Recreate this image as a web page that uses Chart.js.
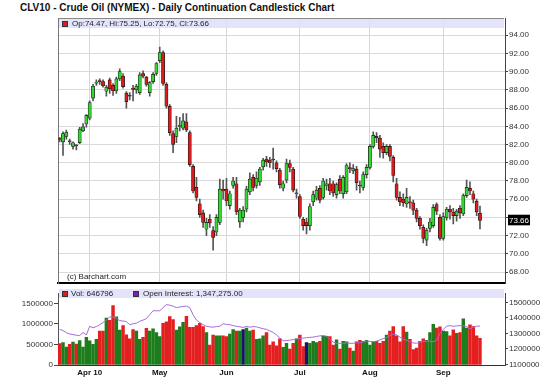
<!DOCTYPE html>
<html><head><meta charset="utf-8">
<script src="https://cdn.jsdelivr.net/npm/chart.js@4/dist/chart.umd.min.js"></script>
<style>
body{margin:0;background:#fff;width:550px;height:382px;overflow:hidden;position:relative;font-family:"Liberation Sans",Arial,sans-serif;}
#title{position:absolute;left:20px;top:2px;font-weight:bold;font-size:10px;line-height:12px;color:#111;white-space:nowrap;}
canvas{position:absolute;left:0;}
#c1{top:0;}
#c2{top:288px;}
.strip{position:absolute;left:59px;width:445px;height:9px;background:rgba(222,222,250,0.85);font-size:8px;line-height:9px;color:#222;white-space:nowrap;}
.sq{position:absolute;top:2px;width:4px;height:4px;border:1px solid #333;}
.tx{position:absolute;top:0;}
#wm{position:absolute;left:67px;top:272px;font-size:8px;line-height:9px;color:#222;}
</style></head>
<body>
<div id="title">CLV10 - Crude Oil (NYMEX) - Daily Continuation Candlestick Chart</div>
<canvas id="c1" width="550" height="289"></canvas>
<canvas id="c2" width="550" height="94"></canvas>
<div class="strip" style="top:18px;border-top:1px solid #888;">
  <span class="sq" style="left:3px;background:#d42020;"></span>
  <span class="tx" id="lg1" style="left:13px;"></span>
</div>
<div class="strip" style="top:289px;">
  <span class="sq" style="left:3px;background:#d42020;"></span>
  <span class="tx" id="lg2" style="left:12px;"></span>
  <span class="sq" style="left:74px;background:#7a1fb0;"></span>
  <span class="tx" id="lg3" style="left:84px;"></span>
</div>
<div id="wm">(c) Barchart.com</div>
<script>
// ---- data ----
const dates = ['Mar 19','Mar 22','Mar 23','Mar 24','Mar 25','Mar 26','Mar 29','Mar 30','Mar 31',
'Apr 1','Apr 5','Apr 6','Apr 7','Apr 8','Apr 9','Apr 12','Apr 13','Apr 14','Apr 15','Apr 16','Apr 19','Apr 20','Apr 21','Apr 22','Apr 23','Apr 26','Apr 27','Apr 28','Apr 29','Apr 30',
'May 3','May 4','May 5','May 6','May 7','May 10','May 11','May 12','May 13','May 14','May 17','May 18','May 19','May 20','May 21','May 24','May 25','May 26','May 27','May 28',
'Jun 1','Jun 2','Jun 3','Jun 4','Jun 7','Jun 8','Jun 9','Jun 10','Jun 11','Jun 14','Jun 15','Jun 16','Jun 17','Jun 18','Jun 21','Jun 22','Jun 23','Jun 24','Jun 25','Jun 28','Jun 29','Jun 30',
'Jul 1','Jul 2','Jul 6','Jul 7','Jul 8','Jul 9','Jul 12','Jul 13','Jul 14','Jul 15','Jul 16','Jul 19','Jul 20','Jul 21','Jul 22','Jul 23','Jul 26','Jul 27','Jul 28','Jul 29','Jul 30',
'Aug 2','Aug 3','Aug 4','Aug 5','Aug 6','Aug 9','Aug 10','Aug 11','Aug 12','Aug 13','Aug 16','Aug 17','Aug 18','Aug 19','Aug 20','Aug 23','Aug 24','Aug 25','Aug 26','Aug 27','Aug 30','Aug 31',
'Sep 1','Sep 2','Sep 3','Sep 7','Sep 8','Sep 9','Sep 10','Sep 13','Sep 14','Sep 15','Sep 16','Sep 17'];
const emptySlots = ['','','','','','',''];

const open = [82.65,82.3,82.9,82.4,81.8,81.9,82.2,83.5,84.25,
84.9,87.1,88.75,88.95,88.9,87.85,89.1,88.5,87.9,89.2,89.5,87.65,87.4,88.1,88.0,87.7,89.8,89.4,87.7,88.9,89.8,
91.2,92.1,88.6,86.2,83.2,82.9,84.0,83.8,84.5,83.3,79.6,77.3,75.5,74.5,72.7,73.8,72.55,72.4,73.45,77.1,
77.1,75.3,77.5,77.7,73.5,74.0,74.9,76.8,78.4,77.5,77.9,79.55,80.4,80.3,80.4,80.0,79.2,77.2,78.1,79.9,79.3,76.6,
76.3,73.8,73.5,73.1,75.7,76.1,77.2,76.2,77.5,77.7,77.7,76.5,78.2,76.6,76.8,79.45,79.1,79.3,77.55,77.3,78.7,
79.5,81.8,82.9,82.7,81.8,81.1,81.8,80.6,77.7,76.2,76.0,75.5,75.65,75.6,74.8,73.9,72.9,71.5,72.8,73.1,75.4,74.0,
71.7,74.0,74.9,74.6,74.2,75.0,74.4,76.4,77.2,76.6,75.8,74.47];
const high = [82.8,83.4,83.6,82.6,82.3,82.0,83.9,84.3,85.3,
86.8,88.6,89.1,89.2,89.1,88.5,89.3,88.7,89.4,90.3,89.8,87.8,87.7,88.5,88.6,89.9,90.1,89.5,88.9,89.9,91.0,
92.7,92.3,88.8,86.4,83.5,85.1,85.0,85.4,85.4,83.5,79.8,78.4,76.0,74.8,73.9,74.3,73.0,74.3,78.2,78.1,
78.3,76.9,78.4,78.4,75.0,75.2,77.4,78.9,78.7,79.0,79.5,80.5,80.7,80.6,81.6,80.2,79.4,78.0,80.4,80.3,79.5,77.1,
76.5,74.0,73.9,75.5,76.9,77.4,77.5,78.3,78.2,78.3,78.0,77.8,78.6,78.6,79.9,80.0,79.8,79.6,78.0,79.0,79.8,
82.0,83.4,83.3,83.0,82.2,82.0,82.0,80.8,78.3,76.8,76.6,77.2,76.3,75.9,75.0,74.1,73.2,72.8,73.9,75.4,75.6,74.3,
74.5,75.1,75.3,75.0,74.9,75.3,76.6,78.1,77.9,76.9,76.0,75.25];
const low = [82.3,80.8,82.6,82.0,81.5,81.4,82.1,83.4,83.9,
84.7,86.8,88.5,88.6,88.3,87.3,87.6,87.4,87.6,89.0,88.2,86.0,86.9,86.8,87.6,87.5,89.3,88.4,87.3,88.7,89.6,
91.0,88.5,86.0,83.0,81.1,82.2,83.5,83.6,83.4,79.6,76.7,75.8,74.0,72.9,72.0,72.9,70.4,72.0,73.2,76.0,
75.3,74.9,77.2,74.3,72.9,73.5,74.6,76.5,76.9,77.2,77.5,79.2,79.6,79.5,79.3,79.0,77.2,76.9,77.8,79.0,76.8,76.1,
73.9,72.6,72.2,72.6,75.3,75.9,75.6,76.0,77.0,76.5,76.3,76.1,76.6,76.1,76.6,78.9,78.8,77.0,76.7,77.0,78.3,
79.3,81.6,82.2,80.6,80.5,80.9,80.2,77.9,75.9,75.3,75.2,75.1,75.0,74.3,73.5,72.7,71.2,70.9,72.4,72.9,74.3,71.5,
71.5,73.7,73.8,73.3,73.6,73.9,74.2,76.2,76.5,75.6,74.2,72.75];
const close = [82.55,83.2,83.35,82.3,82.2,81.85,83.7,83.95,85.2,
86.6,88.4,88.8,88.9,88.45,88.3,88.1,87.9,89.2,90.0,88.35,86.7,87.3,88.05,88.4,89.65,89.5,88.6,88.8,89.7,90.9,
92.1,88.7,86.2,83.3,82.0,83.8,84.05,84.6,83.6,79.8,76.9,76.2,74.3,73.45,73.45,73.4,71.8,74.0,77.1,76.9,
75.8,76.6,78.0,74.6,74.8,74.8,77.1,78.2,77.3,78.3,79.3,80.3,80.1,80.0,80.3,79.35,77.6,77.7,79.9,79.5,77.0,76.65,
74.1,73.1,73.1,75.2,76.5,77.0,75.9,78.0,77.7,76.9,76.7,77.6,76.9,78.4,79.7,79.35,79.35,77.8,77.45,78.7,79.5,
81.8,83.0,82.75,81.5,81.1,81.8,80.7,78.6,76.2,75.7,75.6,76.2,75.6,74.8,73.9,73.1,71.7,72.6,73.5,75.1,74.7,71.7,
74.1,74.9,74.6,74.2,74.7,74.5,76.4,77.3,76.9,76.0,74.6,73.66];

const volume = [520000,
547000,435000,502000,555000,510000,592000,435000,675000,585000,502000,
622000,825000,825000,1140000,1087000,1447000,1170000,847000,960000,735000,
637000,862000,825000,622000,675000,892000,825000,877000,787000,690000,
1012000,1050000,1177000,1102000,847000,930000,1035000,1185000,915000,915000,
960000,1012000,937000,787000,487000,727000,712000,712000,712000,690000,
750000,862000,825000,825000,862000,900000,825000,847000,622000,637000,
712000,787000,487000,562000,465000,637000,427000,525000,390000,525000,
637000,727000,450000,547000,525000,577000,547000,577000,697000,697000,
690000,487000,615000,390000,577000,562000,412000,337000,562000,600000,
577000,600000,487000,562000,577000,525000,577000,727000,825000,937000,
712000,562000,937000,802000,622000,375000,412000,577000,637000,600000,
787000,990000,900000,930000,825000,810000,712000,855000,772000,787000,
1125000,900000,975000,937000,712000,646796];

const openInterest = [1326000,1318000,1305000,1296000,1292000,1288000,1286000,1306000,1290000,
1346000,1336000,1344000,1356000,1370000,1386000,1406000,1406000,1398000,1382000,1380000,1376000,1356000,1362000,1366000,1378000,1386000,1396000,1420000,1446000,1446000,
1446000,1466000,1486000,1482000,1476000,1466000,1470000,1474000,1476000,1466000,1420000,1386000,1370000,1356000,1346000,1342000,1340000,1344000,1346000,1362000,
1358000,1356000,1350000,1346000,1342000,1338000,1346000,1340000,1344000,1342000,1336000,1330000,1326000,1316000,1306000,1290000,1270000,1252000,1254000,1256000,1260000,1264000,
1266000,1270000,1272000,1274000,1276000,1280000,1284000,1286000,1282000,1262000,1244000,1236000,1236000,1236000,1238000,1236000,1236000,1238000,1240000,1244000,1250000,
1248000,1246000,1250000,1258000,1266000,1274000,1286000,1296000,1290000,1276000,1262000,1256000,1246000,1238000,1236000,1244000,1248000,1250000,1250000,1246000,1254000,1300000,
1326000,1346000,1350000,1346000,1348000,1350000,1348000,1344000,1330000,1340000,1346000,1347275];

const unchangedVolumeDays = ['Jun 8','Jul 6'];
const priceTicks = [68,70,72,74,76,78,80,82,84,86,88,90,92,94];
const volumeTicks = [0,500000,1000000,1500000];
const oiTicks = [1100000,1200000,1300000,1400000,1500000];
const monthNames = ['Apr','May','Jun','Jul','Aug','Sep'];
const monthTickLabels = ['Apr 10','May','Jun','Jul','Aug','Sep'];

// ---- derived ----
const categories = dates.concat(emptySlots);
const L = close.length - 1;
const lastClose = close[L];
const monthStartIdx = {};
dates.forEach((d,i)=>{const m=d.split(' ')[0]; const k=monthNames.indexOf(m); if(k>=0 && !(m in monthStartIdx)) monthStartIdx[m]=i;});
const tickAt = {};
monthNames.forEach((m,k)=>{ tickAt[monthStartIdx[m]] = monthTickLabels[k]; });
const isMonthStart = i => (i in tickAt);

const GREEN='#33d633', RED='#dc1c1c';
const bodyColors = open.map((o,i)=> close[i]>=o ? GREEN : RED);
const volColors = open.map((o,i)=> unchangedVolumeDays.includes(dates[i]) ? '#14146e' : (close[i]>=o ? '#1d7d1d' : '#e31f1f'));

document.getElementById('lg1').textContent =
  `Op:${open[L].toFixed(2)}, Hi:${high[L].toFixed(2)}, Lo:${low[L].toFixed(2)}, Cl:${close[L].toFixed(2)}`;
document.getElementById('lg2').textContent = `Vol: ${volume[L]}`;
document.getElementById('lg3').textContent = `Open Interest: ${openInterest[L].toLocaleString('en-US',{minimumFractionDigits:2,maximumFractionDigits:2})}`;

Chart.defaults.font.family = '"Liberation Sans", Arial, sans-serif';
Chart.defaults.font.size = 8;
Chart.defaults.color = '#333';

// ---- price chart ----
new Chart(document.getElementById('c1'), {
  type: 'bar',
  data: {
    labels: categories,
    datasets: [
      {data: open.map((o,i)=>[o, close[i]]), backgroundColor: bodyColors, borderColor:'#1a1a1a',
       borderWidth: 0.7, borderSkipped: false, barThickness: 3.2, minBarLength: 1, grouped: false, order: 0},
      {data: low.map((l,i)=>[l, high[i]]), backgroundColor: '#555', barThickness: 1, grouped: false, order: 1}
    ]
  },
  options: {
    responsive: false, animation: false, events: [],
    layout: {padding: {left: 58, top: 18, right: 0, bottom: 2}},
    plugins: {legend: {display: false}, tooltip: {enabled: false}},
    scales: {
      x: {offset: true,
          grid: {offset: false, drawTicks: false, color: c => isMonthStart(c.index) ? '#d6d6d6' : 'rgba(0,0,0,0)'},
          ticks: {display: false},
          border: {display: true, color: '#000', width: 2},
          afterFit: s => { s.height = 0; }},
      y: {position: 'right', min: 66.78, max: 95.89,
          afterBuildTicks: s => { s.ticks = priceTicks.concat([lastClose]).map(v => ({value: v})); },
          ticks: {autoSkip: false, padding: 1,
                  callback: v => (v === 74 ? '' : v.toFixed(2)),
                  color: c => (c.tick.value === lastClose ? '#fff' : '#333'),
                  showLabelBackdrop: true,
                  backdropColor: c => (c.tick.value === lastClose ? '#000' : 'rgba(0,0,0,0)'),
                  backdropPadding: {left: 1, right: 1, top: 1, bottom: 0}},
          grid: {tickLength: 3, color: c => (c.tick && c.tick.value === lastClose ? 'rgba(0,0,0,0)' : '#dadada'),
                 tickColor: c => (c.tick && c.tick.value === lastClose ? 'rgba(0,0,0,0)' : '#444')},
          border: {display: true, color: '#444'},
          afterFit: s => { s.width = 45; }},
      yL: {type: 'linear', position: 'left', ticks: {display: false}, grid: {display: false},
           border: {display: true, color: '#777'}, afterFit: s => { s.width = 0; }}
    }
  }
});

// ---- volume / open interest chart ----
new Chart(document.getElementById('c2'), {
  type: 'bar',
  data: {
    labels: categories,
    datasets: [
      {type: 'line', data: openInterest, yAxisID: 'yOI', borderColor: '#a86ad8', borderWidth: 1,
       pointRadius: 0, tension: 0, order: 0},
      {data: volume, yAxisID: 'yV', backgroundColor: volColors, barThickness: 2.8, order: 1}
    ]
  },
  options: {
    responsive: false, animation: false, events: [],
    layout: {padding: {left: 0, top: 0, right: 0, bottom: 0}},
    plugins: {legend: {display: false}, tooltip: {enabled: false}},
    scales: {
      x: {offset: true,
          grid: {offset: false, drawTicks: true, tickLength: 3,
                 color: c => isMonthStart(c.index) ? '#d6d6d6' : 'rgba(0,0,0,0)',
                 tickColor: c => isMonthStart(c.index) ? '#333' : 'rgba(0,0,0,0)'},
          ticks: {autoSkip: false, maxRotation: 0, minRotation: 0, padding: 0, color: '#111',
                  font: {weight: 'bold', size: 8},
                  callback: (v, i) => (i in tickAt ? tickAt[i] : null)},
          border: {display: true, color: '#333'},
          afterFit: s => { s.height = 17; }},
      yV: {position: 'left', min: 0, max: 1732000,
           afterBuildTicks: s => { s.ticks = volumeTicks.map(v => ({value: v})); },
           ticks: {autoSkip: false, padding: 1, callback: v => String(v)},
           grid: {drawOnChartArea: false, tickLength: 4, tickColor: '#444'},
           border: {display: true, color: '#555'},
           afterFit: s => { s.width = 58; }},
      yOI: {position: 'right', min: 1095800, max: 1555500,
            afterBuildTicks: s => { s.ticks = oiTicks.map(v => ({value: v})); },
            ticks: {autoSkip: false, padding: 1, callback: v => String(v)},
            grid: {drawOnChartArea: false, tickLength: 3, tickColor: '#444'},
            border: {display: true, color: '#444'},
            afterFit: s => { s.width = 45; }}
    }
  }
});
</script>
</body></html>
